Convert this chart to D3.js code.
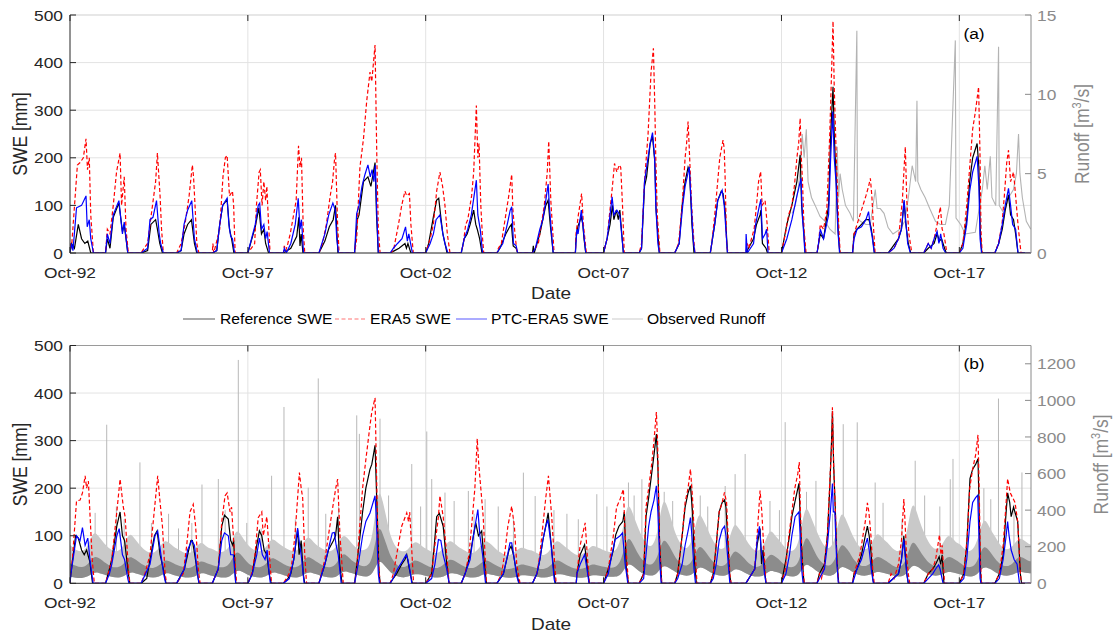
<!DOCTYPE html>
<html><head><meta charset="utf-8">
<script src="https://cdn.jsdelivr.net/npm/d3@7"></script>
<style>body{margin:0;background:#fff;} text{font-family:"Liberation Sans",Arial,Helvetica,sans-serif;}</style>
</head><body><svg id="chart" width="1113" height="634"></svg>
<script>
// ---------------- DATA ----------------
const firstSeasonYear = 1992; // water years start on Oct 1
const xTickDates = ["1992-10-01","1997-10-01","2002-10-01","2007-10-01","2012-10-01","2017-10-01"];
const xTickLabels = ["Oct-92","Oct-97","Oct-02","Oct-07","Oct-12","Oct-17"];
const xDomain = ["1992-10-01","2019-10-07"];
const sweTicks = [0,100,200,300,400,500];
const runoffTicksA = [0,5,10,15];
const runoffTicksB = [0,200,400,600,800,1000,1200];
const legendLabels = ["Reference SWE","ERA5 SWE","PTC-ERA5 SWE","Observed Runoff"];

// SWE per water year: flat pairs [months since Oct 1, SWE mm]
const refA = [
 [0,0, 0.5,20, 1.5,10, 2.8,60, 3.9,30, 5.0,20, 6.0,25, 7.0,0],
 [0,0, 0.6,30, 1.5,10, 2.6,75, 4.5,105, 5.7,45, 6.3,60, 7.5,0],
 [0,0, 2.2,5, 3.3,60, 4.9,70, 5.5,50, 6.3,20, 7.2,0],
 [0,0, 1.5,5, 2.5,40, 3.7,60, 5.0,70, 6.0,20, 6.8,0],
 [0,0, 1.5,5, 2.5,60, 3.5,100, 5.0,112, 5.8,50, 6.5,30, 7.3,0],
 [0,0, 2.5,55, 3.7,95, 4.6,40, 5.4,50, 6.0,20, 7.0,0],
 [0,0, 2.5,10, 4.5,35, 5.2,75, 5.6,15, 6.0,40, 6.6,0],
 [0,0, 2.0,25, 3.5,55, 4.8,70, 5.6,100, 6.4,0],
 [0,0, 0.9,70, 1.5,80, 3.0,150, 4.5,160, 5.5,140, 6.9,190, 7.4,80, 8.0,0],
 [0,0, 1.5,5, 3.0,10, 5.0,20, 5.5,10, 6.0,20, 7.0,0],
 [0,0, 1.0,20, 2.6,76, 3.7,111, 4.4,115, 5.2,70, 5.8,40, 6.5,20, 7.2,0],
 [0,0, 1.0,30, 2.0,40, 3.0,60, 4.2,90, 4.9,60, 5.4,50, 6.2,30, 7.0,0],
 [0,0, 1.0,10, 3.0,40, 4.3,55, 4.9,60, 5.5,15, 6.5,10, 7.0,0],
 [0,0, 0.3,15, 0.6,0, 2.5,40, 3.5,70, 4.5,100, 5.3,111, 6.0,60, 7.0,0],
 [0,0, 2.5,0, 2.7,30, 3.3,55, 4.5,76, 5.0,60, 5.4,30, 6.0,0],
 [0,0, 1.2,30, 2.2,60, 3.0,100, 3.5,70, 4.3,90, 5.0,70, 5.5,90, 6.7,0],
 [0,0, 0.8,10, 1.8,140, 2.5,160, 3.7,230, 4.5,245, 5.3,190, 5.7,90, 6.8,0],
 [0,0, 1.5,20, 2.5,100, 3.5,150, 4.5,180, 5.0,170, 5.8,60, 6.5,0],
 [0,0, 1.5,60, 2.5,110, 3.7,130, 4.3,125, 5.0,90, 5.8,0],
 [0,0, 2.6,30, 3.6,60, 4.8,80, 5.1,90, 5.6,20, 6.8,10, 7.3,0],
 [0,0, 1.8,60, 3.5,100, 5.2,150, 6.3,206, 6.8,100, 7.5,50, 8.0,0],
 [0,0, 1.1,40, 2.2,30, 3.9,100, 4.6,250, 5.4,349, 5.8,250, 6.5,150, 7.2,40, 7.7,0],
 [0,0, 0.5,40, 1.5,50, 3.0,60, 4.5,70, 5.5,70, 6.2,55, 6.8,30, 7.4,0],
 [0,0, 3.5,30, 4.5,50, 5.4,108, 6.0,60, 6.8,20, 7.6,0],
 [0,0, 1.5,10, 3.5,20, 4.5,41, 5.3,25, 6.0,30, 7.0,10, 7.6,0],
 [0,0, 1.2,20, 2.5,70, 3.5,150, 4.5,200, 6.0,230, 6.6,180, 7.1,40, 7.6,0],
 [0,0, 1.3,20, 2.5,50, 3.5,90, 4.6,122, 5.3,80, 6.3,70, 7.0,40, 7.8,0, 12.2,0]
];
const eraA = [
 [0,0, 0.2,20, 0.5,10, 2.5,185, 3.4,190, 4.5,200, 5.4,240, 5.9,175, 6.5,200, 7.0,80, 7.9,0],
 [0,0, 0.6,50, 1.5,40, 2.6,100, 3.7,170, 4.9,210, 5.4,100, 6.3,160, 6.9,50, 7.7,0],
 [0,0, 1.0,10, 2.2,20, 3.0,60, 4.9,150, 5.5,210, 6.4,120, 6.9,50, 7.5,0],
 [0,0, 1.5,20, 2.8,60, 4.2,120, 5.3,185, 5.7,160, 6.2,100, 6.8,20, 7.5,0],
 [0,0, 0.2,20, 0.5,0, 2.5,50, 3.6,160, 4.4,200, 5.0,205, 5.8,120, 6.8,130, 7.2,100, 7.7,0],
 [0,0, 2.3,20, 2.9,100, 3.8,170, 4.2,175, 4.8,100, 5.4,150, 6.0,110, 6.4,140, 7.0,60, 7.5,0],
 [0,0, 0.3,15, 0.8,5, 1.5,20, 2.3,40, 4.3,110, 5.1,225, 5.6,180, 6.1,200, 6.7,50, 7.2,0],
 [0,0, 1.2,20, 2.5,60, 3.8,120, 4.6,150, 5.3,200, 5.6,210, 6.3,60, 6.8,0],
 [0,0, 0.7,30, 1.8,180, 3.0,240, 4.1,320, 5.2,380, 5.8,360, 6.9,437, 7.5,200, 8.0,50, 8.6,0],
 [0,0, 1.1,5, 2.2,40, 3.1,70, 3.9,100, 5.0,130, 5.6,120, 6.5,125, 7.0,60, 7.8,0],
 [0,0, 1.5,30, 2.6,60, 3.7,130, 4.8,170, 5.7,140, 6.5,100, 7.3,40, 8.2,0],
 [0,0, 0.7,20, 1.5,60, 2.2,70, 3.5,120, 4.2,170, 5.1,310, 5.6,200, 6.0,230, 6.6,100, 7.2,30, 7.6,0],
 [0,0, 0.5,10, 1.5,20, 3.0,80, 4.0,120, 5.0,165, 5.4,90, 6.1,40, 6.8,0],
 [0,0, 2.0,20, 3.0,60, 4.0,100, 5.0,170, 5.5,235, 6.2,110, 7.3,0],
 [0,0, 2.5,0, 2.7,40, 3.5,80, 4.0,100, 4.6,125, 5.2,60, 6.2,0],
 [0,0, 1.2,30, 2.0,80, 3.0,140, 3.7,188, 4.5,170, 5.3,185, 5.8,180, 6.4,100, 7.0,0],
 [0,0, 0.8,20, 1.8,150, 3.0,250, 4.0,380, 4.8,430, 5.3,300, 5.6,200, 6.1,80, 7.0,0],
 [0,0, 1.3,20, 2.5,100, 3.5,200, 4.0,230, 4.5,276, 4.9,220, 5.7,100, 6.4,30, 6.8,0],
 [0,0, 0.5,20, 1.5,80, 2.5,150, 3.2,200, 4.3,237, 4.7,220, 5.0,160, 5.5,20, 6.0,0],
 [0,0, 0.5,20, 1.0,10, 2.8,50, 3.6,100, 4.3,150, 5.0,171, 5.5,100, 6.5,110, 7.2,60, 7.9,0],
 [0,0, 1.3,40, 2.4,80, 3.5,100, 4.4,143, 5.2,200, 5.8,230, 6.3,283, 6.7,200, 7.1,150, 7.6,50, 8.3,0],
 [0,0, 0.5,20, 1.1,60, 2.2,50, 3.3,90, 4.3,250, 5.0,400, 5.4,487, 5.8,350, 6.5,200, 7.3,60, 7.8,0],
 [0,0, 0.5,40, 1.5,60, 3.0,90, 4.5,120, 5.4,140, 6.0,157, 6.5,120, 7.0,60, 7.6,0],
 [0,0, 2.0,10, 3.5,30, 4.8,110, 5.4,180, 5.8,223, 6.3,110, 7.0,40, 8.0,0],
 [0,0, 1.5,20, 2.5,10, 3.5,30, 4.5,60, 5.6,97, 6.2,50, 6.8,40, 7.8,0],
 [0,0, 1.2,20, 2.5,100, 3.5,180, 4.5,260, 5.5,300, 6.5,349, 7.0,200, 7.3,50, 7.7,0],
 [0,0, 1.2,20, 2.4,60, 3.2,120, 4.0,190, 4.6,216, 5.3,150, 6.3,170, 7.0,120, 7.8,60, 8.8,0, 12.2,0]
];
const ptcA = [
 [0,0, 0.5,20, 1.0,5, 2.2,95, 3.9,100, 5.4,120, 5.8,55, 6.5,70, 7.0,30, 7.9,0],
 [0,0, 0.6,40, 1.5,20, 2.6,80, 4.5,110, 5.7,40, 6.3,65, 7.5,0],
 [0,0, 2.2,10, 3.0,70, 4.0,75, 5.2,110, 6.1,40, 6.6,20, 7.5,0],
 [0,0, 1.5,5, 2.5,60, 3.7,90, 5.1,110, 6.0,30, 7.0,0],
 [0,0, 1.5,5, 2.5,60, 3.5,100, 5.0,115, 5.6,60, 6.2,35, 6.8,30, 7.5,0],
 [0,0, 2.5,60, 3.5,100, 4.0,105, 4.6,50, 5.4,60, 6.0,30, 6.5,45, 7.3,0],
 [0,0, 0.3,10, 1.0,0, 2.5,20, 4.0,60, 5.0,115, 5.6,50, 6.1,70, 6.8,0],
 [0,0, 2.0,40, 3.3,80, 4.7,105, 5.5,90, 6.0,30, 6.6,0],
 [0,0, 0.7,83, 1.5,100, 2.5,140, 3.5,165, 4.5,185, 5.3,160, 5.9,175, 6.5,150, 7.0,185, 7.5,80, 8.0,0],
 [0,0, 1.1,10, 2.5,20, 4.0,30, 5.2,55, 5.8,25, 6.3,40, 7.5,0],
 [0,0, 1.5,20, 2.6,40, 3.5,70, 4.8,80, 5.8,40, 6.5,20, 7.5,0],
 [0,0, 1.0,30, 2.2,50, 3.4,80, 5.1,153, 5.6,80, 6.4,50, 7.2,0],
 [0,0, 1.0,10, 2.0,20, 3.5,60, 4.5,90, 5.0,97, 5.6,20, 6.5,15, 7.0,0],
 [0,0, 1.0,10, 2.5,50, 3.5,70, 4.5,110, 5.3,145, 5.7,100, 6.2,60, 7.0,0],
 [0,0, 2.5,0, 2.7,20, 3.0,50, 3.4,40, 4.5,90, 5.0,60, 6.0,0],
 [0,0, 1.2,30, 2.0,70, 2.9,118, 3.5,80, 4.5,90, 5.5,80, 6.7,0],
 [0,0, 0.8,10, 1.8,150, 2.5,180, 3.7,230, 4.5,253, 5.2,200, 5.6,100, 6.3,20, 6.8,0],
 [0,0, 1.5,20, 2.7,100, 3.5,140, 4.2,160, 4.9,181, 5.6,100, 6.2,30, 6.8,0],
 [0,0, 0.5,20, 1.5,60, 2.5,110, 4.0,132, 4.7,100, 5.8,0],
 [0,0, 0.1,40, 0.5,0, 2.6,20, 3.3,60, 4.6,100, 5.1,113, 5.6,30, 6.5,40, 7.0,50, 7.5,0],
 [0,0, 1.8,30, 3.5,70, 5.2,120, 6.6,157, 7.0,80, 7.5,40, 7.9,0],
 [0,0, 0.5,20, 1.1,50, 2.2,30, 3.9,80, 4.6,200, 5.3,297, 5.8,200, 6.4,150, 7.0,50, 7.6,0],
 [0,0, 0.5,30, 1.5,50, 3.0,55, 4.5,70, 5.4,87, 6.0,55, 6.6,35, 7.3,0],
 [0,0, 2.0,10, 3.5,30, 4.5,50, 5.4,111, 5.9,70, 6.6,20, 7.5,0],
 [0,0, 1.5,20, 2.5,10, 3.5,30, 4.5,45, 5.1,20, 5.7,40, 6.5,10, 7.4,0],
 [0,0, 1.2,10, 2.5,60, 3.5,130, 4.5,170, 6.0,203, 6.6,140, 7.0,30, 7.5,0],
 [0,0, 1.3,20, 2.5,60, 3.5,100, 4.6,136, 5.3,100, 6.0,60, 7.0,50, 7.8,0, 12.2,0]
];
const refB = [
 [0,0, 0.3,20, 1.9,100, 2.8,95, 3.9,70, 4.8,60, 5.6,70, 6.7,45, 7.6,0],
 [0,0, 1.3,30, 2.1,50, 3.8,120, 4.9,150, 5.7,100, 6.4,90, 7.7,20, 8.2,0],
 [0,0, 1.9,10, 3.0,50, 4.5,100, 5.4,110, 6.4,60, 7.5,30, 8.4,0],
 [0,0, 2.6,30, 3.7,60, 4.8,90, 5.3,90, 6.1,60, 7.3,10, 7.6,0],
 [0,0, 2.0,30, 3.2,120, 4.1,143, 5.4,135, 6.2,90, 6.9,80, 7.2,90, 7.9,0],
 [0,0, 1.5,20, 3.0,80, 3.9,110, 4.7,100, 5.5,70, 6.4,60, 7.2,20, 7.9,0],
 [0,0, 1.5,10, 2.5,20, 3.5,50, 4.8,113, 5.3,60, 6.0,90, 6.7,20, 7.2,0],
 [0,0, 2.0,40, 3.2,70, 4.9,90, 5.6,100, 6.3,140, 7.0,40, 7.8,0],
 [0,0, 1.5,80, 2.7,150, 3.8,200, 5.2,240, 5.8,250, 6.9,290, 7.6,150, 8.2,30, 8.6,0],
 [0,0, 1.0,10, 2.2,20, 3.9,40, 5.0,50, 5.6,60, 6.5,30, 7.5,0],
 [0,0, 2.0,20, 2.9,80, 3.7,140, 4.6,147, 5.9,120, 7.1,40, 7.9,0],
 [0,0, 1.3,20, 3.0,60, 4.1,100, 4.9,127, 5.8,100, 6.9,110, 7.4,70, 8.5,0],
 [0,0, 2.2,20, 3.3,50, 4.1,70, 4.8,78, 5.6,60, 6.7,20, 7.5,0],
 [0,0, 1.5,20, 2.5,50, 3.5,90, 4.5,120, 5.3,148, 6.2,90, 7.3,20, 7.8,0],
 [0,0, 2.8,0, 3.0,20, 4.1,60, 5.6,81, 6.4,40, 7.2,0],
 [0,0, 1.6,30, 3.3,70, 4.1,102, 5.2,120, 6.5,130, 7.0,150, 7.7,30, 8.4,0],
 [0,0, 1.5,20, 2.3,140, 3.2,180, 4.2,230, 5.0,270, 5.8,314, 6.3,250, 6.9,80, 7.6,0],
 [0,0, 1.0,20, 2.5,100, 3.5,160, 4.5,190, 5.3,205, 6.0,150, 6.6,50, 7.3,0],
 [0,0, 1.0,20, 2.0,80, 3.0,150, 4.0,170, 4.8,175, 5.3,160, 5.8,100, 6.5,20, 7.0,0],
 [0,0, 3.0,30, 3.8,80, 4.8,115, 5.3,40, 5.8,70, 6.3,30, 6.8,0],
 [0,0, 1.5,50, 2.7,100, 3.5,140, 4.5,170, 5.9,210, 6.3,140, 6.9,60, 7.6,0],
 [0,0, 0.8,20, 2.5,40, 3.5,100, 4.3,200, 4.9,300, 5.2,362, 5.6,250, 6.2,150, 6.7,50, 7.3,0],
 [0,0, 0.5,20, 1.5,30, 3.0,60, 4.3,100, 5.0,120, 5.6,100, 6.3,60, 6.8,10, 7.2,0],
 [0,0, 3.5,20, 4.5,50, 5.3,100, 5.7,70, 6.3,20, 6.8,0],
 [0,0, 1.5,20, 3.0,30, 4.0,40, 5.2,56, 5.7,40, 6.2,60, 6.8,0],
 [0,0, 1.5,20, 2.5,80, 3.6,220, 4.5,240, 5.5,250, 6.3,262, 6.7,150, 7.1,30, 7.4,0],
 [0,0, 1.5,20, 2.8,60, 3.8,150, 4.3,190, 5.0,170, 5.5,140, 6.3,160, 7.7,130, 8.6,20, 9.0,0, 12.2,0]
];
const eraB = [
 [0,0, 0.1,15, 0.8,50, 2.2,173, 3.4,175, 4.2,190, 5.1,226, 5.6,200, 6.2,215, 6.7,150, 7.5,50, 8.2,0],
 [0,0, 1.3,30, 2.1,50, 3.8,150, 4.9,219, 6.0,160, 6.6,140, 7.7,30, 8.2,0],
 [0,0, 1.3,20, 3.0,60, 4.1,130, 5.6,226, 6.4,170, 7.2,120, 8.1,20, 8.6,0],
 [0,0, 2.2,20, 3.4,80, 4.5,150, 5.6,166, 6.4,120, 7.3,30, 7.9,0],
 [0,0, 2.0,30, 3.2,130, 4.3,184, 5.0,190, 6.0,150, 6.5,160, 7.2,90, 8.2,0],
 [0,0, 1.3,20, 2.4,60, 3.5,138, 4.7,150, 5.2,100, 6.4,140, 7.5,40, 8.0,0],
 [0,0, 1.9,20, 2.8,40, 3.9,100, 5.0,198, 5.4,233, 6.0,200, 6.5,180, 7.2,60, 7.8,0],
 [0,0, 2.0,50, 3.2,100, 4.9,170, 5.7,201, 6.3,219, 7.1,100, 8.2,0],
 [0,0, 0.7,30, 1.5,100, 2.7,200, 3.8,260, 5.2,332, 5.8,360, 6.9,390, 7.5,200, 8.0,50, 8.6,0],
 [0,0, 1.1,20, 2.2,60, 3.9,120, 5.6,148, 6.2,130, 6.6,150, 7.9,0],
 [0,0, 2.0,20, 3.1,80, 4.3,140, 4.8,184, 5.9,140, 7.1,60, 7.9,0],
 [0,0, 1.3,20, 2.6,60, 3.5,120, 4.6,200, 5.4,304, 5.9,250, 6.6,200, 7.4,140, 8.5,0],
 [0,0, 1.6,20, 2.8,70, 3.7,120, 5.0,162, 5.9,120, 6.7,40, 7.8,0],
 [0,0, 1.5,20, 2.5,60, 3.5,120, 4.5,180, 5.4,226, 6.5,140, 7.3,60, 8.0,0],
 [0,0, 2.8,0, 3.0,20, 4.1,80, 5.8,127, 6.5,60, 7.2,0],
 [0,0, 1.6,30, 3.3,100, 4.4,160, 5.6,177, 6.7,198, 7.3,100, 8.4,0],
 [0,0, 1.5,20, 2.3,160, 3.2,200, 4.2,250, 5.0,300, 5.8,360, 6.2,300, 6.8,100, 7.6,0],
 [0,0, 1.0,20, 2.5,100, 3.5,170, 4.5,200, 5.3,240, 6.0,180, 6.6,100, 7.5,0],
 [0,0, 1.0,20, 2.0,80, 3.0,150, 4.0,170, 4.8,191, 5.5,170, 6.0,100, 6.6,20, 7.0,0],
 [0,0, 3.0,30, 3.8,100, 4.8,195, 5.4,150, 6.0,80, 6.8,0],
 [0,0, 1.3,30, 2.5,100, 3.5,150, 4.5,200, 5.5,230, 6.0,255, 6.4,150, 7.0,50, 7.7,0],
 [0,0, 0.8,20, 1.5,10, 2.5,40, 3.5,100, 4.2,200, 5.0,300, 5.2,370, 5.6,250, 6.2,150, 6.7,50, 7.3,0],
 [0,0, 0.5,20, 1.5,40, 2.5,60, 3.5,100, 4.3,130, 5.0,169, 5.5,150, 6.2,100, 6.8,30, 7.3,0],
 [0,0, 1.0,20, 2.0,10, 3.5,40, 4.5,90, 5.3,177, 5.7,130, 6.2,60, 6.8,20, 7.3,0],
 [0,0, 1.5,20, 3.0,30, 4.0,50, 5.3,102, 5.8,60, 6.2,80, 7.0,0],
 [0,0, 1.5,20, 2.7,100, 3.5,200, 4.5,240, 5.5,270, 6.3,312, 6.7,200, 7.1,50, 7.5,0],
 [0,0, 1.5,20, 2.8,80, 3.8,170, 4.3,220, 5.2,190, 6.0,180, 6.8,170, 7.7,130, 8.6,20, 9.0,0, 12.2,0]
];
const ptcB = [
 [0,0, 0.3,20, 2.2,100, 3.4,90, 4.2,117, 5.1,80, 6.0,95, 6.9,40, 7.8,0],
 [0,0, 1.3,20, 2.1,40, 3.8,100, 4.6,115, 5.7,60, 6.4,50, 7.5,10, 7.9,0],
 [0,0, 3.0,40, 4.7,100, 5.6,110, 6.7,60, 7.6,20, 8.3,0],
 [0,0, 2.6,30, 3.7,70, 5.1,90, 6.0,80, 7.0,20, 7.5,0],
 [0,0, 2.0,30, 3.2,90, 4.1,106, 5.4,100, 6.2,60, 7.1,60, 7.9,0],
 [0,0, 1.5,20, 3.0,60, 3.9,95, 4.9,60, 5.8,50, 6.5,70, 7.2,20, 7.6,0],
 [0,0, 2.0,10, 3.5,50, 4.8,116, 5.5,80, 6.0,60, 7.0,0],
 [0,0, 2.0,40, 3.5,80, 4.5,106, 5.2,107, 5.8,80, 6.5,60, 7.5,0],
 [0,0, 1.5,50, 2.7,100, 3.8,130, 5.2,148, 6.9,184, 7.3,140, 8.0,20, 8.4,0],
 [0,0, 1.0,10, 2.5,30, 4.0,45, 5.4,60, 6.0,50, 6.6,30, 7.3,0],
 [0,0, 2.0,10, 3.1,40, 4.3,92, 5.1,90, 5.9,60, 7.1,30, 7.9,0],
 [0,0, 1.3,20, 3.0,50, 4.1,100, 5.6,155, 6.3,100, 7.2,60, 8.2,0],
 [0,0, 2.2,20, 3.3,50, 4.4,85, 5.0,85, 5.9,50, 6.7,15, 7.4,0],
 [0,0, 1.5,20, 2.5,50, 3.5,90, 4.5,120, 5.2,134, 6.3,80, 7.3,10, 7.6,0],
 [0,0, 2.8,0, 3.0,20, 4.1,40, 5.6,60, 6.4,30, 7.1,0],
 [0,0, 1.6,20, 2.8,60, 3.9,92, 5.6,100, 6.4,106, 7.3,40, 8.2,0],
 [0,0, 1.5,10, 2.3,60, 3.2,120, 4.0,150, 5.0,175, 5.8,205, 6.3,150, 6.9,50, 7.4,0],
 [0,0, 1.0,10, 2.5,40, 3.5,80, 4.5,110, 5.3,138, 5.8,100, 6.5,30, 7.0,0],
 [0,0, 1.0,10, 2.0,40, 3.0,90, 4.0,113, 4.8,120, 5.3,100, 5.8,60, 6.6,0],
 [0,0, 3.0,30, 3.8,90, 4.6,120, 5.2,70, 5.8,50, 6.3,20, 6.8,0],
 [0,0, 1.5,20, 2.7,60, 3.5,100, 4.6,140, 5.9,150, 6.3,100, 6.8,30, 7.3,0],
 [0,0, 0.8,10, 2.5,30, 3.5,80, 4.5,150, 5.2,210, 5.5,150, 6.0,150, 6.6,50, 7.2,0],
 [0,0, 0.5,10, 1.5,30, 3.0,50, 4.3,80, 5.0,95, 5.6,70, 6.3,30, 7.0,0],
 [0,0, 3.5,20, 4.5,50, 5.3,92, 5.7,60, 6.3,20, 6.8,0],
 [0,0, 1.5,10, 3.0,20, 4.0,30, 5.0,39, 5.5,30, 6.5,0],
 [0,0, 1.5,10, 2.5,50, 3.6,130, 4.5,170, 5.5,180, 6.2,185, 6.6,100, 7.0,10, 7.3,0],
 [0,0, 1.5,10, 2.8,50, 3.8,100, 4.3,130, 4.8,100, 5.5,70, 6.5,50, 7.5,40, 8.3,0, 12.2,0]
];

// Observed runoff, panel (a) [m3/s]
const runoffADates = ["2013-01-18","2013-02-20","2013-03-21","2013-04-15","2013-05-02","2013-05-22","2013-06-13","2013-07-01","2013-08-05","2013-09-12","2013-11-01","2013-12-23","2014-02-10","2014-04-05","2014-04-27","2014-05-10","2014-05-26","2014-06-17","2014-07-20","2014-09-05","2014-10-10","2014-11-14","2014-11-20","2014-12-20","2015-02-15","2015-04-01","2015-05-22","2015-06-10","2015-07-12","2015-08-20","2015-10-01","2015-11-20","2016-02-01","2016-03-20","2016-04-26","2016-06-04","2016-07-10","2016-07-23","2016-08-01","2016-09-01","2016-10-15","2016-12-01","2017-01-29","2017-03-20","2017-05-11","2017-06-20","2017-08-21","2017-08-28","2017-10-15","2017-12-01","2018-03-14","2018-05-25","2018-06-20","2018-07-15","2018-08-15","2018-09-01","2018-10-10","2018-11-08","2018-11-15","2019-01-01","2019-02-20","2019-04-10","2019-05-10","2019-06-01","2019-06-15","2019-07-10","2019-08-20","2019-10-05"];
const runoffAValues = [2.5,3.0,4.0,5.5,7.5,6.0,7.8,4.5,3.5,3.0,2.3,2.0,1.5,1.2,6.7,3.5,5.0,4.0,3.0,2.5,2.0,14.0,2.2,2.0,1.8,1.8,4.0,2.8,2.8,2.5,1.6,1.2,1.5,2.0,3.5,5.5,4.5,9.6,4.5,4.0,3.5,2.8,2.0,1.8,1.8,3.0,13.4,2.2,1.8,1.2,1.3,4.0,5.5,4.0,6.1,3.5,3.0,13.0,3.0,2.5,3.5,4.0,5.0,7.5,5.0,3.5,2.0,1.5];

// Observed runoff, panel (b) [m3/s]: daily range band per water year at these months after Oct 1
const runoffMonthsB = [0, 2, 4, 6, 8, 9.5, 11];
const runoffLowB = [
 [35,30,28,35,60,60,50],[45,35,30,35,60,60,50],[45,35,30,35,55,55,45],[40,35,30,35,55,55,45],
 [40,35,30,35,70,70,55],[45,35,30,35,60,60,50],[45,35,30,35,60,60,50],[45,35,30,35,65,65,55],
 [50,40,35,45,130,110,80],[60,40,30,35,50,50,45],[40,35,30,35,55,55,50],[40,35,30,35,55,50,45],
 [40,35,30,30,45,45,40],[40,35,30,35,50,50,45],[40,35,30,30,45,45,40],[40,35,35,45,110,100,80],
 [65,45,40,50,100,90,75],[65,45,40,45,90,85,70],[60,45,40,45,80,75,65],[55,40,35,40,70,65,60],
 [50,40,35,45,110,95,80],[65,45,40,45,95,85,75],[60,45,40,45,65,60,55],[50,40,35,45,100,95,80],
 [65,45,40,45,65,60,55],[50,40,35,45,90,85,75],[60,45,40,45,65,60,55]
];
const runoffCoreB = [
 [110,95,85,100,150,140,125],[110,90,85,100,150,135,120],[105,90,80,95,130,120,110],[100,90,80,95,125,115,105],
 [100,90,85,105,180,160,130],[110,90,85,100,145,130,115],[105,90,85,100,150,135,120],[110,90,85,105,170,150,125],
 [115,95,90,120,330,270,200],[150,100,85,95,130,120,110],[100,85,80,100,135,125,110],[100,85,80,100,130,120,105],
 [95,80,75,85,105,100,95],[90,80,75,95,130,120,105],[95,80,75,85,105,100,95],[90,85,85,120,260,230,180],
 [150,110,95,130,250,220,180],[145,105,90,120,210,190,160],[135,100,90,110,185,165,145],[125,95,85,105,165,150,135],
 [115,90,85,110,270,230,180],[145,105,90,120,220,200,170],[135,100,90,105,150,140,125],[115,90,85,115,240,210,170],
 [145,105,90,105,150,140,125],[115,90,85,110,210,190,160],[135,100,90,105,150,140,125]
];
const runoffHighB = [
 [210,180,170,200,290,260,230],[210,180,170,200,280,250,220],[200,170,160,190,240,220,200],[190,170,160,180,230,210,190],
 [190,170,170,200,300,270,230],[210,180,170,190,250,230,210],[200,180,170,200,260,240,210],[200,180,170,200,270,250,220],
 [200,180,180,230,540,450,340],[260,190,170,180,230,220,200],[190,170,160,190,240,220,200],[190,170,160,190,240,220,200],
 [180,160,150,170,200,190,180],[180,160,150,180,240,220,200],[190,160,150,170,210,200,190],[180,170,170,240,450,400,330],
 [290,220,190,250,480,420,340],[280,210,180,230,400,350,300],[260,200,180,210,340,300,270],[240,190,170,200,300,270,240],
 [220,180,170,220,440,380,320],[280,210,180,230,400,360,300],[260,200,180,200,280,260,230],[220,180,170,230,460,400,320],
 [280,210,180,200,270,250,220],[220,180,170,220,360,330,280],[260,200,180,200,250,240,220]
];
const runoffEndB = [55, 120, 210]; // low, core, high at the last day
const runoffSpikeDatesB = ["1993-06-16","1993-10-13","1994-01-20","1994-04-10","1994-09-19","1995-01-15","1995-07-10","1995-10-20","1996-03-05","1996-06-17","1996-12-02","1997-02-10","1997-06-25","1997-09-20","1998-02-15","1998-06-02","1998-10-07","1999-02-01","1999-06-13","1999-09-24","1999-12-10","2000-04-20","2000-10-23","2000-11-19","2001-06-19","2001-09-15","2002-05-11","2002-08-10","2002-10-12","2002-12-02","2003-04-17","2003-07-20","2003-12-13","2004-02-10","2004-06-02","2004-10-15","2005-03-20","2005-06-30","2005-10-29","2006-05-10","2006-09-20","2007-01-15","2007-07-24","2007-11-05","2008-06-13","2008-08-10","2008-10-29","2009-06-15","2009-09-10","2010-03-25","2010-06-20","2010-09-05","2011-03-03","2011-06-13","2011-09-24","2012-06-05","2012-09-10","2012-11-08","2013-06-15","2013-09-20","2014-03-10","2014-06-27","2014-11-18","2015-05-21","2015-08-10","2016-02-20","2016-07-05","2016-10-10","2017-03-15","2017-06-30","2017-07-28","2018-06-10","2018-08-20","2018-11-07","2019-04-15","2019-07-06"];
const runoffSpikeValuesB = [385,867,420,350,661,330,380,300,330,540,570,400,1221,330,300,588,964,350,523,1120,380,420,918,817,900,480,652,420,830,570,496,450,505,380,460,420,350,605,477,400,380,350,487,420,551,480,569,500,450,551,480,420,532,597,707,450,400,881,500,560,380,870,880,551,440,350,670,480,420,569,680,520,460,1010,430,606];

// ---------------- DRAWING ----------------
const svg = d3.select("#chart");
const parse = d3.timeParse("%Y-%m-%d");
const DAY = 864e5;
const seasonDate = (k, m) => new Date(new Date(firstSeasonYear + k, 9, 1).getTime() + m * 30.44 * DAY);
function seasonSeries(seasons) {
  const pts = [];
  seasons.forEach((s, k) => { for (let i = 0; i < s.length; i += 2) pts.push({ d: seasonDate(k, s[i]), v: s[i + 1] }); });
  return pts;
}
const x = d3.scaleTime().domain(xDomain.map(parse)).range([70, 1031]);
const SX = 1.12; // horizontal text stretch of the reference rendering
const INK = "#262626", GRAYAX = "#8a8a8a";

function txt(g, px, py, s, o = {}) {
  const t = g.append("text")
    .attr("transform", `translate(${px},${py}) scale(${SX},1)` + (o.rot ? " rotate(-90)" : ""))
    .attr("text-anchor", o.anchor || "middle")
    .attr("dominant-baseline", o.base || "central")
    .attr("font-size", o.size || 15.5)
    .attr("fill", o.fill || INK);
  if (o.html) t.html(s); else t.text(s);
  return t;
}

const panels = [
  { top: 15, bottom: 253, ref: refA, era: eraA, ptc: ptcA, rMax: 15, rTicks: runoffTicksA, letter: "(a)", topColor: "#cfcfcf", rLabelX: 1082, tickY: 272, dateY: 293 },
  { top: 345.5, bottom: 583.3, ref: refB, era: eraB, ptc: ptcB, rMax: 1300, rTicks: runoffTicksB, letter: "(b)", topColor: "#9a9a9a", rLabelX: 1101, tickY: 602, dateY: 624 }
];

panels.forEach((p, pi) => {
  const g = svg.append("g");
  const y = d3.scaleLinear().domain([0, 500]).range([p.bottom, p.top]);
  const yr = d3.scaleLinear().domain([0, p.rMax]).range([p.bottom, p.top]);
  const clipId = "clip" + pi;
  svg.append("clipPath").attr("id", clipId).append("rect")
    .attr("x", 70).attr("y", p.top).attr("width", 961).attr("height", p.bottom - p.top);

  const grid = g.append("g").attr("stroke", "#e3e3e3").attr("stroke-width", 1);
  sweTicks.slice(1, -1).forEach(v => grid.append("line").attr("x1", 70).attr("x2", 1031).attr("y1", y(v)).attr("y2", y(v)));
  xTickDates.slice(1).forEach(d => grid.append("line").attr("x1", x(parse(d))).attr("x2", x(parse(d))).attr("y1", p.top).attr("y2", p.bottom));

  const data = g.append("g").attr("clip-path", `url(#${clipId})`);
  if (pi === 0) {
    const rPts = runoffADates.map((d, i) => ({ d: parse(d), v: runoffAValues[i] }));
    data.append("path").datum(rPts).attr("fill", "none").attr("stroke", "#b3b3b3").attr("stroke-width", 1.1)
      .attr("d", d3.line().x(o => x(o.d)).y(o => yr(o.v)));
  } else {
    const band = [];
    runoffLowB.forEach((row, k) => row.forEach((lo, j) => band.push({ d: seasonDate(k, runoffMonthsB[j]), lo, core: runoffCoreB[k][j], hi: runoffHighB[k][j] })));
    band.push({ d: parse(xDomain[1]), lo: runoffEndB[0], core: runoffEndB[1], hi: runoffEndB[2] });
    const bis = d3.bisector(o => o.d).center;
    runoffSpikeDatesB.forEach((ds, i) => {
      const d = parse(ds); const b = band[bis(band, d)];
      data.append("line").attr("x1", x(d)).attr("x2", x(d)).attr("y1", yr(b.core)).attr("y2", yr(runoffSpikeValuesB[i]))
        .attr("stroke", "#b8b8b8").attr("stroke-width", 1);
    });
    data.append("path").datum(band).attr("fill", "#c9c9c9")
      .attr("d", d3.area().curve(d3.curveBasis).x(o => x(o.d)).y0(o => yr(o.lo)).y1(o => yr(o.hi)));
    data.append("path").datum(band).attr("fill", "#8c8c8c")
      .attr("d", d3.area().curve(d3.curveBasis).x(o => x(o.d)).y0(o => yr(o.lo)).y1(o => yr(o.core)));
  }
  const line = d3.line().x(o => x(o.d)).y(o => y(o.v));
  data.append("path").datum(seasonSeries(p.ref)).attr("fill", "none").attr("stroke", "#000").attr("stroke-width", 1.2).attr("d", line);
  data.append("path").datum(seasonSeries(p.era)).attr("fill", "none").attr("stroke", "#ff0000").attr("stroke-width", 1.2).attr("stroke-dasharray", "4,2.5").attr("d", line);
  data.append("path").datum(seasonSeries(p.ptc)).attr("fill", "none").attr("stroke", "#0000ff").attr("stroke-width", 1.2).attr("d", line);

  const ax = g.append("g").attr("fill", "none");
  ax.append("line").attr("x1", 70).attr("x2", 1031).attr("y1", p.top).attr("y2", p.top).attr("stroke", p.topColor);
  ax.append("line").attr("x1", 70).attr("x2", 1031).attr("y1", p.bottom).attr("y2", p.bottom).attr("stroke", INK);
  ax.append("line").attr("x1", 70).attr("x2", 70).attr("y1", p.top).attr("y2", p.bottom).attr("stroke", INK);
  ax.append("line").attr("x1", 1031).attr("x2", 1031).attr("y1", p.top).attr("y2", p.bottom).attr("stroke", GRAYAX);
  xTickDates.forEach((d, i) => {
    const xx = x(parse(d));
    ax.append("line").attr("x1", xx).attr("x2", xx).attr("y1", p.bottom).attr("y2", p.bottom - 6).attr("stroke", INK);
    ax.append("line").attr("x1", xx).attr("x2", xx).attr("y1", p.top).attr("y2", p.top + 6).attr("stroke", INK);
    txt(g, xx, p.tickY, xTickLabels[i]);
  });
  sweTicks.forEach(v => {
    ax.append("line").attr("x1", 70).attr("x2", 76).attr("y1", y(v)).attr("y2", y(v)).attr("stroke", INK);
    txt(g, 63, y(v), String(v), { anchor: "end" });
  });
  p.rTicks.forEach(v => {
    ax.append("line").attr("x1", 1031).attr("x2", 1025).attr("y1", yr(v)).attr("y2", yr(v)).attr("stroke", GRAYAX);
    txt(g, 1037, yr(v), String(v), { anchor: "start", fill: GRAYAX });
  });
  txt(g, 551, p.dateY, "Date", { size: 17 });
  const mid = (p.top + p.bottom) / 2;
  txt(g, 20, mid, "SWE [mm]", { size: 17.5, rot: true });
  txt(g, p.rLabelX, mid, 'Runoff [m<tspan dy="-6" font-size="11">3</tspan><tspan dy="6">/s]</tspan>', { size: 17.5, rot: true, fill: GRAYAX, html: true });
  txt(g, 974, p.top + 18, p.letter, { size: 15.5, fill: "#000" });
});

const lg = svg.append("g");
const legY = 319;
const legItems = [
  { x1: 183, x2: 215, tx: 220, stroke: "#000", dash: null },
  { x1: 335, x2: 367, tx: 370, stroke: "#ff0000", dash: "4,2.5" },
  { x1: 456, x2: 487, tx: 491, stroke: "#0000ff", dash: null },
  { x1: 612, x2: 643, tx: 647, stroke: "#b0b0b0", dash: null }
];
legItems.forEach((it, i) => {
  lg.append("line").attr("x1", it.x1).attr("x2", it.x2).attr("y1", legY).attr("y2", legY)
    .attr("stroke", it.stroke).attr("stroke-opacity", 0.55).attr("stroke-width", 1.2).attr("stroke-dasharray", it.dash);
  txt(lg, it.tx, legY, legendLabels[i], { anchor: "start", size: 14, fill: "#000" });
});
</script></body></html>
